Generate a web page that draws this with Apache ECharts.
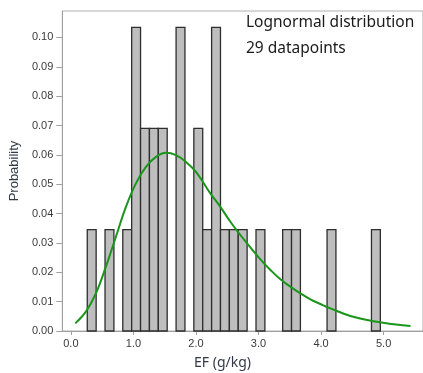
<!DOCTYPE html>
<html><head><meta charset="utf-8">
<script src="https://cdn.jsdelivr.net/npm/echarts@6/dist/echarts.min.js"></script>
<style>html,body{margin:0;padding:0;background:#fff}#c{width:423px;height:373px}</style>
</head><body><div id="c"></div>
<script>
// Histogram bins (left edge, g/kg) and probability (count / 29)
const binWidth = 0.142;
const binStarts = [0.262, 0.546, 0.830, 0.972, 1.114, 1.256, 1.398, 1.682, 1.966, 2.108, 2.250, 2.392, 2.534, 2.676, 2.960, 3.386, 3.528, 4.096, 4.806];
const binProb   = [0.0345, 0.0345, 0.0345, 0.1034, 0.0690, 0.0690, 0.0690, 0.1034, 0.0690, 0.0345, 0.1034, 0.0345, 0.0345, 0.0345, 0.0345, 0.0345, 0.0345, 0.0345, 0.0345];
// Fitted lognormal curve
const curveX = [0.07, 0.24, 0.40, 0.56, 0.72, 0.88, 1.04, 1.20, 1.36, 1.52, 1.68, 1.84, 2.00, 2.23, 2.39, 2.55, 2.71, 2.87, 3.03, 3.19, 3.35, 3.51, 3.67, 3.83, 3.99, 4.15, 4.47, 4.84, 5.20, 5.43];
const curveY = [0.0026, 0.0066, 0.0128, 0.0219, 0.0321, 0.0423, 0.0503, 0.0559, 0.0593, 0.0607, 0.0599, 0.0576, 0.0542, 0.0469, 0.0423, 0.0372, 0.0327, 0.0285, 0.0244, 0.0208, 0.0176, 0.0151, 0.0128, 0.0108, 0.0092, 0.0077, 0.0051, 0.0033, 0.0022, 0.0017];
const xTicks = [0, 1, 2, 3, 4, 5];
const yTicks = [0, 0.01, 0.02, 0.03, 0.04, 0.05, 0.06, 0.07, 0.08, 0.09, 0.10];
const annotation = ['Lognormal distribution', '29 datapoints'];

const chart = echarts.init(document.getElementById('c'));
const barData = binStarts.map((s, i) => [s, s + binWidth, binProb[i]]);
const curveData = curveX.map((x, i) => [x, curveY[i]]);
const labelFont = {fontFamily: 'Liberation Sans', fontSize: 11, color: '#3a3a3a'};
chart.setOption({
  animation: false,
  grid: {left: 62, top: 11, right: 0, bottom: 42, show: true, borderColor: '#b0b0b0', borderWidth: 1, backgroundColor: '#fff'},
  xAxis: {
    type: 'value', min: -0.137, max: 5.63,
    axisLine: {show: true, onZero: false, lineStyle: {color: '#a0a0a0'}},
    axisTick: {show: true, length: 4, customValues: xTicks, lineStyle: {color: '#a0a0a0'}},
    axisLabel: Object.assign({customValues: xTicks, margin: 7, formatter: v => v.toFixed(1)}, labelFont),
    splitLine: {show: false}
  },
  yAxis: {
    type: 'value', min: 0, max: 0.109,
    name: 'Probability', nameLocation: 'middle', nameGap: 32,
    nameTextStyle: {fontFamily: 'Liberation Sans', fontSize: 13, color: '#333a4a'},
    axisLine: {show: true, onZero: false, lineStyle: {color: '#a0a0a0'}},
    axisTick: {show: true, length: 6, customValues: yTicks, lineStyle: {color: '#a0a0a0'}},
    axisLabel: Object.assign({customValues: yTicks, margin: 9, formatter: v => v.toFixed(2)}, labelFont),
    splitLine: {show: false}
  },
  series: [
    {
      type: 'custom',
      data: barData,
      encode: {x: [0, 1], y: 2},
      renderItem: function (params, api) {
        const p0 = api.coord([api.value(0), api.value(2)]);
        const p1 = api.coord([api.value(1), 0]);
        return {
          type: 'rect',
          shape: {x: p0[0], y: p0[1], width: p1[0] - p0[0], height: p1[1] - p0[1]},
          style: {fill: '#bebebe', stroke: '#2e2e2e', lineWidth: 1.3}
        };
      },
      z: 2
    },
    {
      type: 'line', data: curveData, smooth: 0.4, symbol: 'none',
      lineStyle: {color: '#1a961a', width: 2}, z: 3
    }
  ],
  graphic: [
    {type: 'text', left: 246, top: 15, z: 10, style: {text: annotation[0], font: '15.5px "Noto Sans"', fill: '#1a1a1a'}},
    {type: 'text', left: 246, top: 41, z: 10, style: {text: annotation[1], font: '15.5px "Noto Sans"', fill: '#1a1a1a'}},
    {type: 'text', left: 194, top: 356, z: 10, style: {text: 'EF (g/kg)', font: '14px "Noto Sans"', fill: '#333a4a'}}
  ]
});
</script></body></html>
